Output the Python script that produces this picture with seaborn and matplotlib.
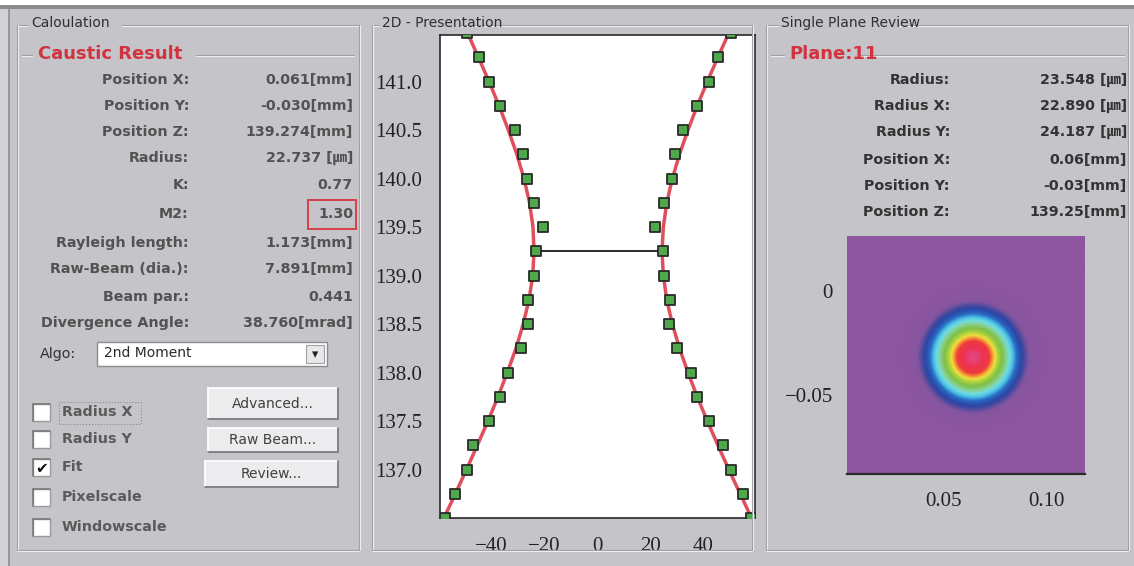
import numpy as np
import pandas as pd
import matplotlib
matplotlib.use("Agg")
import matplotlib.pyplot as plt
import seaborn as sns
from matplotlib.patches import Rectangle
from matplotlib.lines import Line2D
from matplotlib.colors import LinearSegmentedColormap

# ---- data ----
calc_labels = ["Position X:", "Position Y:", "Position Z:", "Radius:", "K:", "M2:",
               "Rayleigh length:", "Raw-Beam (dia.):", "Beam par.:", "Divergence Angle:"]
calc_values = ["0.061[mm]", "-0.030[mm]", "139.274[mm]", "22.737 [㎛]", "0.77", "1.30",
               "1.173[mm]", "7.891[mm]", "0.441", "38.760[mrad]"]

plane_labels = ["Radius:", "Radius X:", "Radius Y:", "Position X:", "Position Y:", "Position Z:"]
plane_values = ["23.548 [㎛]", "22.890 [㎛]", "24.187 [㎛]", "0.06[mm]", "-0.03[mm]", "139.25[mm]"]

check_labels = ["Radius X", "Radius Y", "Fit", "Pixelscale", "Windowscale"]
check_state = [False, False, True, False, False]
button_labels = ["Advanced...", "Raw Beam...", "Review..."]

# caustic measurement: beam edge positions per plane
z_planes = [136.5, 136.75, 137.0, 137.25, 137.5, 137.75, 138.0, 138.25, 138.5, 138.75, 139.0,
            139.25, 139.5, 139.75, 140.0, 140.25, 140.5, 140.75, 141.0, 141.25, 141.5]
edge_left = [-57.4, -53.6, -49.1, -46.7, -40.8, -36.6, -33.7, -28.9, -26.2, -26.2, -24.0,
             -23.1, -20.3, -23.8, -26.5, -27.8, -30.9, -36.6, -40.8, -44.4, -49.2]
edge_right = [58.1, 55.0, 50.6, 47.7, 42.4, 37.6, 35.3, 30.1, 27.3, 27.5, 25.3,
              24.8, 21.9, 25.3, 28.4, 29.4, 32.3, 37.6, 42.4, 45.8, 50.6]
# fitted caustic (red curve)
fit_left = [-57.8, -53.5, -49.3, -45.2, -41.2, -37.4, -33.9, -30.6, -27.9, -25.7, -24.3,
            -23.8, -24.2, -25.5, -27.6, -30.3, -33.5, -37.0, -40.8, -44.8, -48.9]
fit_right = [58.3, 54.0, 49.7, 45.6, 41.6, 37.8, 34.3, 31.1, 28.4, 26.3, 25.0,
             24.5, 25.0, 26.3, 28.4, 31.1, 34.3, 37.8, 41.6, 45.6, 49.7]
waist_z = 139.25

# single plane beam profile (plane 11)
beam_cx = 0.0645
beam_cy = -0.0318
beam_w = 0.022

# ---- style ----
sns.set_style("white")
plt.rcParams["font.family"] = ["DejaVu Sans", "Noto Sans CJK SC"]
plt.rcParams["axes.unicode_minus"] = True

W, H = 1134, 566
BG = "#c4c4c9"
fig = plt.figure(figsize=(W / 100, H / 100), dpi=100, facecolor=BG)


def fx(x):
    return x / W


def fy(y):
    return 1 - y / H


def txt(x, y, s, **kw):
    kw.setdefault("va", "center")
    fig.text(fx(x), fy(y), s, **kw)


def line(x0, y0, x1, y1, color, lw=0.8):
    fig.add_artist(Line2D([fx(x0), fx(x1)], [fy(y0), fy(y1)], color=color, lw=lw))


def rect(x0, y0, x1, y1, **kw):
    fig.add_artist(Rectangle((fx(x0), fy(y1)), fx(x1) - fx(x0), fy(y0) - fy(y1),
                             transform=fig.transFigure, **kw))


def etched_h(x0, x1, y):
    line(x0, y, x1, y, "#9c9ca1")
    line(x0, y + 1.2, x1, y + 1.2, "#eeeef0")


def etched_v(x, y0, y1):
    line(x, y0, x, y1, "#9c9ca1")
    line(x + 1.2, y0, x + 1.2, y1, "#eeeef0")


# window frame
rect(0, 0, W, 5, facecolor="white", edgecolor="none")
rect(0, 5, W, 8.5, facecolor="#8a8a8f", edgecolor="none")
rect(0, 8.5, 8, H, facecolor="#d2d2d5", edgecolor="none")
line(9, 8.5, 9, H, "#8f8f94", lw=1.2)

# group boxes
def groupbox(x0, x1, title_x0, title_x1, title):
    etched_h(x0, title_x0 - 3, 25)
    etched_h(title_x1 + 3, x1, 25)
    etched_v(x0, 25, 550)
    etched_v(x1, 25, 550)
    etched_h(x0, x1, 550)
    txt(title_x0, 23, title, fontsize=10, color="#303030")

groupbox(17, 359, 31, 119, "Caloulation")
groupbox(372, 752, 382, 458, "2D - Presentation")
groupbox(766, 1128, 781, 896, "Single Plane Review")

# ---- left panel: caustic results ----
etched_h(22, 32, 55)
etched_h(196, 354, 55)
txt(38, 54, "Caustic Result", fontsize=13, fontweight="bold", color="#d2333f")

calc_row_y = [80, 106, 132, 158, 185, 214, 243, 269, 297, 323]
for lab, val, y in zip(calc_labels, calc_values, calc_row_y):
    txt(189, y, lab, ha="right", fontsize=10.3, fontweight="bold", color="#525252")
    txt(353, y, val, ha="right", fontsize=10.3, fontweight="bold", color="#525252")
# highlight around M2
rect(308, 200, 356, 229, facecolor="none", edgecolor="#d8404a", lw=1.4)

# algorithm combo box
txt(40, 354, "Algo:", fontsize=10.3, color="#333333")
rect(97, 342, 327, 366, facecolor="white", edgecolor="#8c8c8c", lw=1)
txt(104, 353, "2nd Moment", fontsize=10, color="#2a2a2a")
rect(306, 345, 324, 363, facecolor="#e8e8e8", edgecolor="#a0a0a0", lw=0.8)
txt(315, 355, "▾", ha="center", fontsize=9, color="#222222")

# check boxes
check_row_y = [412, 439, 467, 497, 527]
for lab, on, y in zip(check_labels, check_state, check_row_y):
    rect(33, y - 8, 50, y + 9, facecolor="white", edgecolor="#9a9a9a", lw=1)
    line(33, y - 8, 50, y - 8, "#7a7a7a", lw=1.2)
    line(33, y - 8, 33, y + 9, "#7a7a7a", lw=1.2)
    if on:
        txt(41.5, y + 1, "✔", ha="center", fontsize=11, color="#111111")
    txt(62, y, lab, fontsize=10.3, fontweight="bold", color="#5a5a5a")
rect(59, 402, 141, 424, facecolor="none", edgecolor="#8a8a8a", lw=0.8, ls=":")

# buttons
button_boxes = [(208, 388, 338, 419), (208, 428, 338, 452), (205, 461, 338, 487)]
for lab, (x0, y0, x1, y1) in zip(button_labels, button_boxes):
    rect(x0, y0, x1, y1, facecolor="#ececee", edgecolor="none")
    line(x0, y0, x1, y0, "white", lw=1.3)
    line(x0, y0, x0, y1, "white", lw=1.3)
    line(x0, y1, x1, y1, "#7c7c80", lw=1.3)
    line(x1, y0, x1, y1, "#7c7c80", lw=1.3)
    txt((x0 + x1) / 2, (y0 + y1) / 2, lab, ha="center", fontsize=10, color="#404040")

# ---- middle panel: caustic plot ----
ax = fig.add_axes([fx(440), fy(518), fx(755) - fx(440), fy(35) - fy(518)])
ax.set_facecolor("white")
red = "#e0505c"
green = "#4fa84a"
sns.lineplot(x=fit_left, y=z_planes, sort=False, estimator=None, color=red, lw=2.5, ax=ax, zorder=2)
sns.lineplot(x=fit_right, y=z_planes, sort=False, estimator=None, color=red, lw=2.5, ax=ax, zorder=2)
wi = z_planes.index(waist_z)
ax.plot([edge_left[wi], edge_right[wi]], [waist_z, waist_z], color="#1a1a1a", lw=1.3, zorder=2)
pts = pd.DataFrame({"x": edge_left + edge_right, "z": z_planes + z_planes})
sns.scatterplot(data=pts, x="x", y="z", marker="s", s=58, color=green,
                edgecolor="#2a2a2a", linewidth=1.3, ax=ax, zorder=3)
ax.set_xlim(-59.3, 59.6)
ax.set_ylim(136.5, 141.48)
ax.set_xticks([-40, -20, 0, 20, 40])
ax.set_yticks([137.0, 137.5, 138.0, 138.5, 139.0, 139.5, 140.0, 140.5, 141.0])
ax.yaxis.set_major_formatter(matplotlib.ticker.FormatStrFormatter("%.1f"))
ax.set_xlabel("")
ax.set_ylabel("")
for sp in ax.spines.values():
    sp.set_color("#1a1a1a")
    sp.set_linewidth(1.1)
ax.tick_params(direction="in", length=4, width=1, color="#1a1a1a", labelcolor="#222222")
ax.tick_params(axis="y", pad=13)
ax.tick_params(axis="x", pad=14)
for lab in ax.get_xticklabels() + ax.get_yticklabels():
    lab.set_fontfamily("Liberation Serif")
    lab.set_fontsize(15)

# ---- right panel: single plane review ----
etched_h(771, 784, 55)
etched_h(860, 1124, 55)
txt(789, 54, "Plane:11", fontsize=13, fontweight="bold", color="#d2333f")
plane_row_y = [80, 106, 132, 160, 186, 212]
for lab, val, y in zip(plane_labels, plane_values, plane_row_y):
    txt(950, y, lab, ha="right", fontsize=10.3, fontweight="bold", color="#333333")
    txt(1127, y, val, ha="right", fontsize=10.3, fontweight="bold", color="#333333")

ax2 = fig.add_axes([fx(847), fy(474), fx(1085) - fx(847), fy(236) - fy(474)])
x0, x1, y0, y1 = 0.0034, 0.1185, -0.088, 0.0264
gx, gy = np.meshgrid(np.linspace(x0, x1, 300), np.linspace(y0, y1, 300))
r2 = (gx - beam_cx) ** 2 + (gy - beam_cy) ** 2
intensity = np.exp(-2 * r2 / beam_w ** 2)
beam_cmap = LinearSegmentedColormap.from_list("beam", [
    (0.0, "#8e56a0"), (0.045, "#8655a0"), (0.075, "#4c4a9e"), (0.1, "#2a46a6"),
    (0.16, "#2a6cc4"), (0.21, "#48bce4"), (0.27, "#70dce2"), (0.35, "#88d08c"),
    (0.44, "#7cc048"), (0.55, "#aed23e"), (0.63, "#f0e040"), (0.71, "#f58a35"),
    (0.78, "#ee3a3c"), (0.92, "#ec3354"), (1.0, "#e5447e")])
ax2.imshow(intensity, extent=[x0, x1, y0, y1], origin="lower", cmap=beam_cmap,
           aspect="auto", interpolation="bilinear", vmin=0, vmax=1)
ax2.set_xlim(x0, x1)
ax2.set_ylim(y0, y1)
ax2.set_xticks([0.05, 0.10])
ax2.set_xticklabels(["0.05", "0.10"])
ax2.set_yticks([0, -0.05])
ax2.set_yticklabels(["0", "\u22120.05"])
for s in ["top", "right", "left"]:
    ax2.spines[s].set_visible(False)
ax2.spines["bottom"].set_color("#2a2a2a")
ax2.spines["bottom"].set_linewidth(1.6)
ax2.tick_params(direction="in", length=5, width=1, color="#2a2a2a", labelcolor="#222222")
ax2.tick_params(axis="y", pad=10)
ax2.tick_params(axis="x", pad=13)
for lab in ax2.get_xticklabels() + ax2.get_yticklabels():
    lab.set_fontfamily("Liberation Serif")
    lab.set_fontsize(15)

fig.savefig("out.png", dpi=100, facecolor=BG)
